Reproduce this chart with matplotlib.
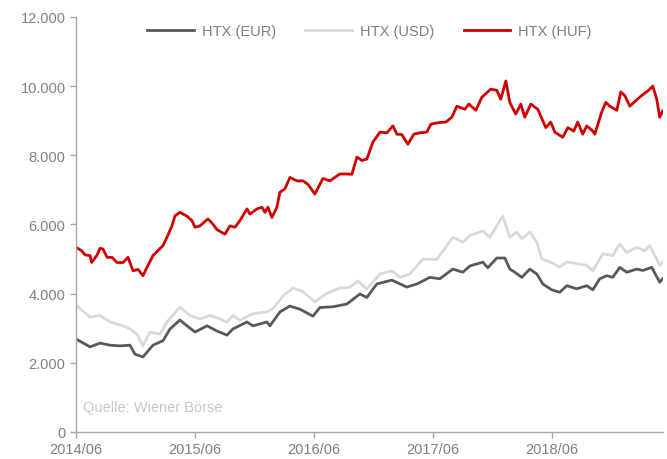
import matplotlib
matplotlib.use("Agg")
import matplotlib.pyplot as plt
from matplotlib.ticker import FuncFormatter

# months since 2014/06
t_huf = [0.0, 0.57, 0.91, 1.41, 1.58, 2.09, 2.42, 2.72, 3.13, 3.63, 4.13, 4.74, 5.24, 5.75, 6.25, 6.75,
         7.16, 7.76, 8.77, 9.17, 9.68, 9.98, 10.48, 11.19, 11.69, 12.0, 12.5, 13.31, 13.81, 14.21, 15.02,
         15.52, 16.03, 16.53, 17.24, 17.54, 18.25, 18.75, 19.05, 19.35, 19.76, 20.26, 20.56, 21.07, 21.57,
         22.28, 22.88, 23.39, 24.09, 24.9, 25.6, 26.61, 27.32, 27.82, 28.33, 28.83, 29.33, 29.94, 30.65,
         31.35, 31.96, 32.36, 32.86, 33.47, 34.07, 34.68, 35.38, 35.79, 36.69, 37.3, 37.9, 38.41, 39.21,
         39.62, 40.32, 40.93, 41.83, 42.44, 42.84, 43.35, 43.75, 44.35, 44.86, 45.26, 45.87, 46.57, 47.38,
         47.88, 48.29, 49.09, 49.6, 50.2, 50.6, 51.11, 51.51, 52.12, 52.32, 53.02, 53.43, 53.83, 54.54,
         54.94, 55.34, 55.85, 56.45, 57.06, 57.76, 58.17, 58.57, 58.87, 59.17]
huf = [5340, 5240, 5120, 5100, 4900, 5100, 5310, 5290, 5050, 5050, 4900, 4900, 5050, 4660, 4700, 4520,
       4760, 5100, 5390, 5630, 5960, 6250, 6350, 6240, 6110, 5920, 5960, 6160, 6010, 5850, 5720,
       5960, 5920, 6110, 6450, 6300, 6450, 6500, 6350, 6500, 6200, 6500, 6930, 7030, 7360,
       7260, 7260, 7160, 6880, 7330, 7260, 7460, 7460, 7450, 7950, 7850, 7890, 8380, 8670,
       8650, 8850, 8610, 8600, 8320, 8610, 8650, 8670, 8900, 8950, 8960, 9100, 9420, 9330,
       9480, 9300, 9680, 9910, 9880, 9620, 10150, 9530, 9190, 9480, 9100, 9480, 9330, 8800,
       8960, 8670, 8520, 8800, 8700, 8960, 8610, 8850, 8700, 8610, 9250, 9530, 9420, 9300,
       9830, 9730, 9420, 9580, 9730, 9880, 10000, 9620, 9100, 9280]

t_eur = [0.0, 1.41, 2.42, 3.43, 4.44, 5.44, 5.95, 6.75, 7.76, 8.77, 9.48, 10.48, 11.19, 12.0, 13.21,
         14.21, 15.22, 15.83, 17.24, 17.84, 19.25, 19.56, 20.56, 21.57, 22.58, 23.89, 24.6, 25.91,
         27.32, 28.63, 29.33, 30.34, 31.85, 33.37, 34.38, 35.69, 36.69, 38.0, 39.01, 39.72, 41.03,
         41.53, 42.44, 43.25, 43.75, 44.25, 44.96, 45.77, 46.47, 47.08, 47.98, 48.79, 49.5, 50.5,
         51.51, 52.12, 52.82, 53.53, 54.13, 54.84, 55.54, 56.55, 57.16, 58.06, 58.87, 59.17]
eur = [2690, 2460, 2570, 2510, 2490, 2510, 2250, 2170, 2510, 2640, 2980, 3240, 3070, 2890, 3070,
       2920, 2800, 2980, 3180, 3070, 3180, 3070, 3470, 3640, 3550, 3350, 3600, 3620,
       3700, 3990, 3890, 4280, 4390, 4190, 4280, 4470, 4430, 4710, 4620, 4800, 4910,
       4750, 5030, 5030, 4710, 4620, 4470, 4710, 4570, 4280, 4110, 4040, 4230, 4140,
       4230, 4110, 4430, 4520, 4470, 4760, 4620, 4710, 4670, 4760, 4330, 4430]

t_usd = [0.0, 1.41, 2.42, 3.43, 4.74, 5.44, 6.15, 6.75, 7.46, 8.47, 9.17, 10.48, 11.49, 12.5, 13.51,
         14.52, 15.22, 15.83, 16.53, 17.84, 19.25, 19.86, 20.87, 21.88, 22.88, 24.09, 25.3, 26.61,
         27.62, 28.43, 29.33, 30.65, 31.85, 32.66, 33.67, 34.98, 36.39, 38.0, 39.01, 39.72, 41.03,
         41.73, 42.44, 43.04, 43.75, 44.46, 44.96, 45.77, 46.47, 46.98, 47.78, 48.79, 49.5, 50.5,
         51.51, 52.12, 53.12, 54.13, 54.84, 55.54, 56.55, 57.36, 57.86, 58.87, 59.17]
usd = [3670, 3320, 3370, 3180, 3070, 2980, 2830, 2490, 2890, 2830, 3180, 3610, 3370, 3270, 3370,
       3270, 3180, 3370, 3230, 3420, 3470, 3560, 3930, 4160, 4060, 3760, 4010, 4160,
       4180, 4370, 4130, 4570, 4660, 4470, 4570, 5000, 4990, 5630, 5490, 5680, 5810,
       5630, 5960, 6240, 5630, 5780, 5590, 5780, 5490, 5000, 4920, 4770, 4920, 4870,
       4820, 4660, 5150, 5100, 5430, 5190, 5340, 5240, 5390, 4820, 4920]

x_tick_pos = [0, 12, 24, 36, 48]
x_tick_labels = ["2014/06", "2015/06", "2016/06", "2017/06", "2018/06"]
y_ticks = [0, 2000, 4000, 6000, 8000, 10000, 12000]

plt.rcParams['font.family'] = ['Liberation Sans', 'DejaVu Sans']

fig = plt.figure(figsize=(6.67, 4.6), dpi=100)
ax = fig.add_axes([0.114, 0.0587, 0.880, 0.9023])

ax.plot(t_eur, eur, color="#595959", lw=2.0, label="HTX (EUR)")
ax.plot(t_usd, usd, color="#d9d9d9", lw=2.0, label="HTX (USD)")
ax.plot(t_huf, huf, color="#d00000", lw=2.0, label="HTX (HUF)")

ax.set_xlim(0, 59.2)
ax.set_ylim(0, 12000)
ax.set_xticks(x_tick_pos)
ax.set_xticklabels(x_tick_labels)
ax.set_yticks(y_ticks)
ax.yaxis.set_major_formatter(FuncFormatter(lambda v, p: f"{int(v):,}".replace(",", ".")))

for s in ["top", "right"]:
    ax.spines[s].set_visible(False)
for s in ["left", "bottom"]:
    ax.spines[s].set_color("#a6a6a6")
    ax.spines[s].set_linewidth(1.0)
ax.tick_params(axis="both", colors="#a6a6a6", labelcolor="#808080", labelsize=10.5,
               direction="out", length=4, width=1.0)
ax.tick_params(axis="x", pad=3)

ax.text(0.012, 0.06, "Quelle: Wiener Börse", transform=ax.transAxes, color="#c8c8c8",
        fontsize=10.5, ha="left", va="center")

leg = ax.legend(loc="center", bbox_to_anchor=(0.5, 0.966), ncol=3, frameon=False,
                fontsize=10.5, handlelength=3.2, handletextpad=0.55, columnspacing=2.0)
for t in leg.get_texts():
    t.set_color("#808080")

fig.savefig("out.png", dpi=100)
